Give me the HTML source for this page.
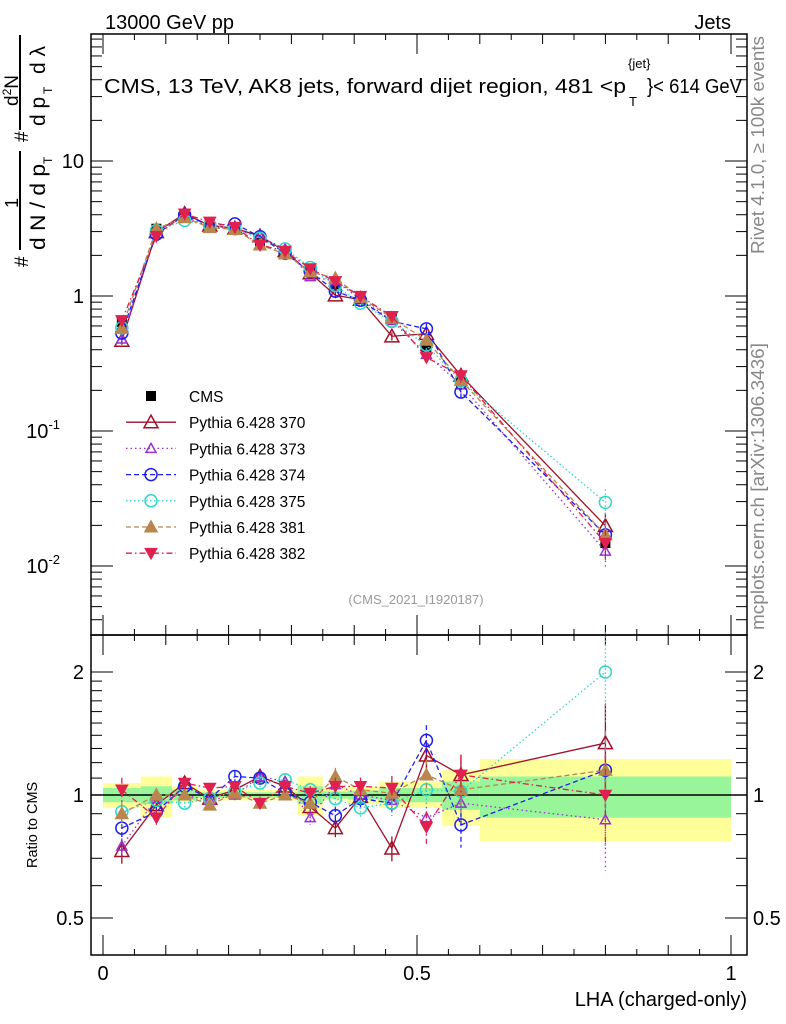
<!DOCTYPE html>
<html><head><meta charset="utf-8">
<style>
body{margin:0;background:#fff;width:786px;height:1024px;overflow:hidden}
svg{display:block;font-family:"Liberation Sans",sans-serif}
</style></head>
<body>
<svg id="chart" width="786" height="1024" viewBox="0 0 786 1024" xmlns="http://www.w3.org/2000/svg">
<text x="105" y="29" font-size="20">13000 GeV pp</text>
<text x="731" y="29" font-size="20" text-anchor="end">Jets</text>
<g id="bands"></g>
<g id="axes"></g>
<g id="marks"></g>
<g>
<text x="104" y="93" font-size="20" textLength="522" lengthAdjust="spacingAndGlyphs">CMS, 13 TeV, AK8 jets, forward dijet region, 481 &lt;p</text>
<text x="628" y="68" font-size="13">{jet}</text>
<text x="629" y="106" font-size="13">T</text>
<text x="647" y="93" font-size="20" textLength="95" lengthAdjust="spacingAndGlyphs">}&lt; 614 GeV</text>
</g>
<text x="416" y="604" font-size="13" fill="#999" text-anchor="middle">(CMS_2021_I1920187)</text>
<text transform="translate(764,254) rotate(-90)" font-size="18" fill="#888" textLength="218" lengthAdjust="spacingAndGlyphs">Rivet 4.1.0, ≥ 100k events</text>
<text transform="translate(764,630) rotate(-90)" font-size="18" fill="#888" textLength="287" lengthAdjust="spacingAndGlyphs">mcplots.cern.ch [arXiv:1306.3436]</text>
<text x="747" y="1006" font-size="20" text-anchor="end">LHA (charged-only)</text>
<text transform="translate(37,868) rotate(-90)" font-size="14.5">Ratio to CMS</text>
<g font-size="21">
<text transform="translate(28,267) rotate(-90)" font-size="19">#</text>
<text transform="translate(18,208) rotate(-90)" font-size="18">1</text>
<line x1="20" y1="250" x2="20" y2="151" stroke="#000" stroke-width="2"/>
<text transform="translate(45,250) rotate(-90)" textLength="86" lengthAdjust="spacingAndGlyphs">d N / d p</text>
<text transform="translate(52,164) rotate(-90)" font-size="12">T</text>
<text transform="translate(28,142) rotate(-90)" font-size="19">#</text>
<text transform="translate(18,106) rotate(-90)" font-size="19">d<tspan font-size="12" dy="-7">2</tspan><tspan dy="7">N</tspan></text>
<line x1="20" y1="130" x2="20" y2="35" stroke="#000" stroke-width="2"/>
<text transform="translate(45,126) rotate(-90)">d p</text>
<text transform="translate(52,94) rotate(-90)" font-size="12">T</text>
<text transform="translate(45,74) rotate(-90)">d λ</text>
</g>
<g id="legend"></g>
</svg>
<script>
const xs=[0.03,0.085,0.13,0.17,0.21,0.25,0.29,0.33,0.37,0.41,0.46,0.515,0.57,0.8];
const cms=[0.64,3.15,3.8,3.4,3.08,2.5,2.05,1.58,1.22,0.95,0.68,0.42,0.23,0.0148];
const cmsErr=[0.05,0.1,0.1,0.08,0.07,0.06,0.05,0.04,0.04,0.03,0.03,0.03,0.02,0.003];
const binEdges=[0,0.06,0.11,0.15,0.19,0.23,0.27,0.31,0.35,0.39,0.44,0.49,0.54,0.6,1.0];
const yelUp=[1.07,1.11,1.05,1.03,1.03,1.03,1.03,1.11,1.04,1.05,1.08,1.08,1.15,1.225];
const yelDn=[0.93,0.88,0.96,0.97,0.97,0.97,0.97,0.89,0.97,0.95,0.93,0.93,0.84,0.77];
const grnUp=[1.04,1.05,1.03,1.015,1.015,1.015,1.015,1.05,1.02,1.025,1.04,1.04,1.08,1.11];
const grnDn=[0.96,0.95,0.97,0.985,0.985,0.985,0.985,0.95,0.98,0.975,0.96,0.96,0.92,0.88];
const names=["Pythia 6.428 370","Pythia 6.428 373","Pythia 6.428 374","Pythia 6.428 375","Pythia 6.428 381","Pythia 6.428 382"];
const r370=[0.73,0.945,1.07,0.98,1.03,1.11,1.05,0.935,0.83,0.99,0.74,1.25,1.12,1.34];
const r373=[0.75,0.98,1.0,0.97,1.0,1.11,1.08,0.88,1.06,1.0,0.97,0.88,0.955,0.87];
const r374=[0.83,0.91,1.05,0.98,1.11,1.10,1.01,0.96,0.89,0.98,0.955,1.36,0.845,1.15];
const r375=[0.91,0.97,0.955,0.98,1.02,1.07,1.09,1.03,0.98,0.93,0.955,1.03,1.02,2.0];
const r381=[0.90,1.0,1.0,0.945,1.01,0.955,1.0,0.955,1.11,1.03,1.01,1.12,1.03,1.15];
const r382=[1.03,0.88,1.07,1.04,1.05,0.955,1.05,1.01,1.05,1.05,1.04,0.835,1.12,1.0];
const relErr=[0.07,0.04,0.03,0.03,0.03,0.03,0.03,0.04,0.05,0.05,0.07,0.09,0.12,0.25];
const ratios=[r370,r373,r374,r375,r381,r382];
const colors=["#a0102a","#9b30d0","#2020ee","#30d8c8","#b8864e","#e0204f"];
const dashes=["","1.5,3","5,3","1.5,2.5","5,3","6,3,1.5,3"];
const markers=["tri","tri","circ","circ","triF","triDF"];
const sizes=[7,5,6,6,6,6];

const NS="http://www.w3.org/2000/svg";
const X0=91,X1=747,T=34,MB=635,RB=955;
const sx=v=>103+628*v;
const sy=v=>296-135*Math.log10(v);
const sr=v=>795-123*Math.log2(v);
function mk(tag,a,p){const e=document.createElementNS(NS,tag);for(const k in a)e.setAttribute(k,a[k]);(p||document.getElementById('marks')).appendChild(e);return e;}
const bands=document.getElementById('bands'),axes=document.getElementById('axes'),legend=document.getElementById('legend');

for(let i=0;i<binEdges.length-1;i++){
 const xa=sx(binEdges[i]),xb=sx(binEdges[i+1]);
 let e=mk('rect',{x:xa,y:sr(yelUp[i]),width:xb-xa,height:sr(yelDn[i])-sr(yelUp[i]),fill:'#ffff99'},bands);
 
 
 e=mk('rect',{x:xa,y:sr(grnUp[i]),width:xb-xa,height:sr(grnDn[i])-sr(grnUp[i]),fill:'#99f599'},bands);
 
 
}
mk('rect',{x:X0,y:T,width:X1-X0,height:MB-T,fill:'none',stroke:'#000','stroke-width':1.5},axes);
mk('rect',{x:X0,y:MB,width:X1-X0,height:RB-MB,fill:'none',stroke:'#000','stroke-width':1.5},axes);
mk('line',{x1:X0,y1:795,x2:X1,y2:795,stroke:'#000','stroke-width':1.5},axes);
for(let k=0;k<=20;k++){const v=k*0.05,x=sx(v);const L=k%10==0?20:(k%2==0?10:6);
 [[T,1],[MB,-1],[MB,1],[RB,-1]].forEach(([y,d])=>mk('line',{x1:x,y1:y,x2:x,y2:y+d*L,stroke:'#000'},axes));}
[[0,'0'],[0.5,'0.5'],[1,'1']].forEach(([v,t])=>{const e=mk('text',{x:sx(v),y:980,'font-size':20,'text-anchor':'middle'},axes);e.textContent=t;
 
 });
for(let d=-3;d<=1;d++)for(let m=1;m<=9;m++){const v=m*Math.pow(10,d),y=sy(v);if(y<T||y>MB)continue;const L=m==1?22:11;
 mk('line',{x1:X0,y1:y,x2:X0+L,y2:y,stroke:'#000'},axes);mk('line',{x1:X1,y1:y,x2:X1-L,y2:y,stroke:'#000'},axes);}
[[10,'10'],[1,'1']].forEach(([v,t])=>{const e=mk('text',{x:84,y:sy(v)+7,'font-size':20,'text-anchor':'end'},axes);e.textContent=t;
 
 });
[[0.1,'-1'],[0.01,'-2']].forEach(([v,t])=>{const e=mk('text',{x:60,y:sy(v)+7,'font-size':20,'text-anchor':'end'},axes);e.innerHTML='10<tspan font-size="13" dy="-9">'+t+'</tspan>';
 
 });
const rt=[0.5,0.6,0.7,0.8,0.9,1,1.1,1.2,1.3,1.4,1.5,1.6,1.7,1.8,1.9,2];
rt.forEach(v=>{const y=sr(v);const L=(v==0.5||v==1||v==2)?22:11;
 mk('line',{x1:X0,y1:y,x2:X0+L,y2:y,stroke:'#000'},axes);mk('line',{x1:X1,y1:y,x2:X1-L,y2:y,stroke:'#000'},axes);});
[[2,'2'],[1,'1'],[0.5,'0.5']].forEach(([v,t])=>{[[84,'end'],[753,'start']].forEach(([x,a])=>{const e=mk('text',{x:x,y:sr(v)+7,'font-size':20,'text-anchor':a},axes);e.textContent=t;
 
 });});

function marker(kind,x,y,s,c,g){
 if(kind=='circ')return mk('circle',{cx:x,cy:y,r:s,fill:'none',stroke:c,'stroke-width':1.5},g);
 if(kind=='tri'||kind=='triF')return mk('polygon',{points:`${x},${y-s} ${x-s},${y+s*0.8} ${x+s},${y+s*0.8}`,fill:kind=='tri'?'none':c,stroke:c,'stroke-width':1.5},g);
 if(kind=='triDF')return mk('polygon',{points:`${x},${y+s} ${x-s},${y-s*0.8} ${x+s},${y-s*0.8}`,fill:c,stroke:c},g);
 return mk('rect',{x:x-5,y:y-5,width:10,height:10,fill:c},g);
}
const gc=mk('g',{});


xs.forEach((x,i)=>{mk('line',{x1:sx(x),y1:sy(cms[i]+cmsErr[i]),x2:sx(x),y2:sy(cms[i]-cmsErr[i]),stroke:'#000'},gc);marker('sq',sx(x),sy(cms[i]),5,'#000',gc);});
ratios.forEach((r,k)=>{
 const g=mk('g',{});
 
 
 const c=colors[k];
 const pm=xs.map((x,i)=>sx(x)+','+sy(cms[i]*r[i])).join(' ');
 const pr=xs.map((x,i)=>sx(x)+','+sr(r[i])).join(' ');
 mk('polyline',{points:pm,fill:'none',stroke:c,'stroke-width':1.3,'stroke-dasharray':dashes[k]},g);
 mk('polyline',{points:pr,fill:'none',stroke:c,'stroke-width':1.3,'stroke-dasharray':dashes[k]},g);
 xs.forEach((x,i)=>{const e=relErr[i];
  mk('line',{x1:sx(x),y1:sy(cms[i]*r[i]*(1+e)),x2:sx(x),y2:sy(cms[i]*r[i]*(1-e)),stroke:c,'stroke-width':1.3,'stroke-dasharray':dashes[k]},g);
  mk('line',{x1:sx(x),y1:sr(r[i]*(1+e)),x2:sx(x),y2:sr(r[i]*(1-e)),stroke:c,'stroke-width':1.3,'stroke-dasharray':dashes[k]},g);
  marker(markers[k],sx(x),sy(cms[i]*r[i]),sizes[k],c,g);
  marker(markers[k],sx(x),sr(r[i]),sizes[k],c,g);
 });
});
const le=[["CMS","#000","","sq",5]].concat(names.map((n,k)=>[n,colors[k],dashes[k],markers[k],sizes[k]]));
le.forEach((e,i)=>{const y=396+26.2*i;const g=mk('g',{},legend);
 
 
 if(i>0)mk('line',{x1:126,y1:y,x2:176,y2:y,stroke:e[1],'stroke-width':1.3,'stroke-dasharray':e[2]},g);
 marker(e[3],151,y,e[4],e[1],g);
 const t=mk('text',{x:189,y:y+6,'font-size':15.5},g);t.textContent=e[0];});
</script>
</body></html>
